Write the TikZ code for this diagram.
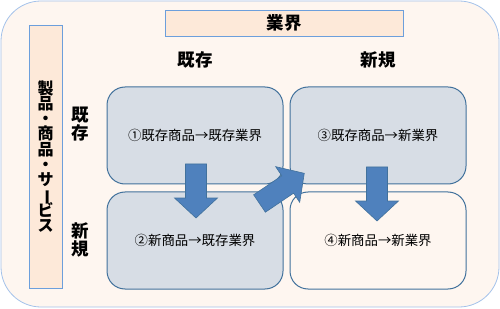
\documentclass[tikz,border=0pt]{standalone}
\usepackage{fontspec}
\setmainfont{Noto Sans CJK JP}
\usetikzlibrary{positioning}

\definecolor{paper}{HTML}{FEF6F0}
\definecolor{paperedge}{HTML}{A4C2EA}
\definecolor{peach}{HTML}{FDE9D9}
\definecolor{peachedge}{HTML}{6C9FDC}
\definecolor{cellfill}{HTML}{D7DDE5}
\definecolor{celledge}{HTML}{41719C}
\definecolor{arrowfill}{HTML}{4F81BD}

\setlength{\lineskiplimit}{-20pt}

\tikzset{
  cell/.style={draw=celledge, line width=1pt, fill=cellfill, rounded corners=18pt,
    minimum width=176pt, minimum height=97pt, inner sep=0pt,
    font=\fontsize{13.4}{15}\selectfont},
  banner/.style={draw=peachedge, fill=peach, line width=0.8pt, inner sep=0pt},
  header/.style={font=\fontsize{17.5}{17.3}\selectfont\bfseries},
  flowarrow/.style={draw=celledge, fill=arrowfill, line width=0.6pt, line join=miter},
}

% block arrow: tail centre, direction
\newcommand{\blockarrow}[2]{%
  \draw[flowarrow, shift={#1}, rotate=#2]
    (0,-10.5) -- (34,-10.5) -- (34,-21.5) -- (54,0) -- (34,21.5) -- (34,10.5) -- (0,10.5) -- cycle;}

\begin{document}
\begin{tikzpicture}[x=1pt, y=1pt]

    \useasboundingbox (0,0) rectangle (500,308);

    % Background panel
    \draw[draw=paperedge, fill=paper, line width=0.8pt, rounded corners=40pt]
        (1,1) rectangle (499,307);

    % Banners
    \node[banner, header, minimum width=238pt, minimum height=26pt] (industry)
        at (284,285) {業界};
    \node[banner, minimum width=33pt, minimum height=263pt] (productbar) at (45.5,151.5) {};
    \node[align=center, font=\fontsize{16}{15.3}\selectfont\bfseries]
        (product) at (productbar) {製\\品\\・\\商\\品\\・\\サ\\\rotatebox[origin=c]{-90}{ー}\\ビ\\ス};

    % Matrix cells
    \node[cell] (oldold) at (195,172.5) {①既存商品→既存業界};
    \node[cell, below=7pt of oldold] (newold) {②新商品→既存業界};
    \node[cell, right=6pt of oldold] (oldnew) {③既存商品→新業界};
    \node[cell, fill=paper, below=7pt of oldnew] (newnew) {④新商品→新業界};

    % Column and row headers
    \node[header] (colold) at (oldold |- 0,248) {既存};
    \node[header] (colnew) at (oldnew |- 0,248) {新規};
    \node[header, align=center] (rowold) at (80,184) {既\\存};
    \node[header, align=center] (rownew) at (80,68) {新\\規};

    % Block arrows
    \blockarrow{(196,144)}{-90}
    \blockarrow{(377,141)}{-90}
    \blockarrow{(259.5,104.5)}{34}

\end{tikzpicture}
\end{document}
